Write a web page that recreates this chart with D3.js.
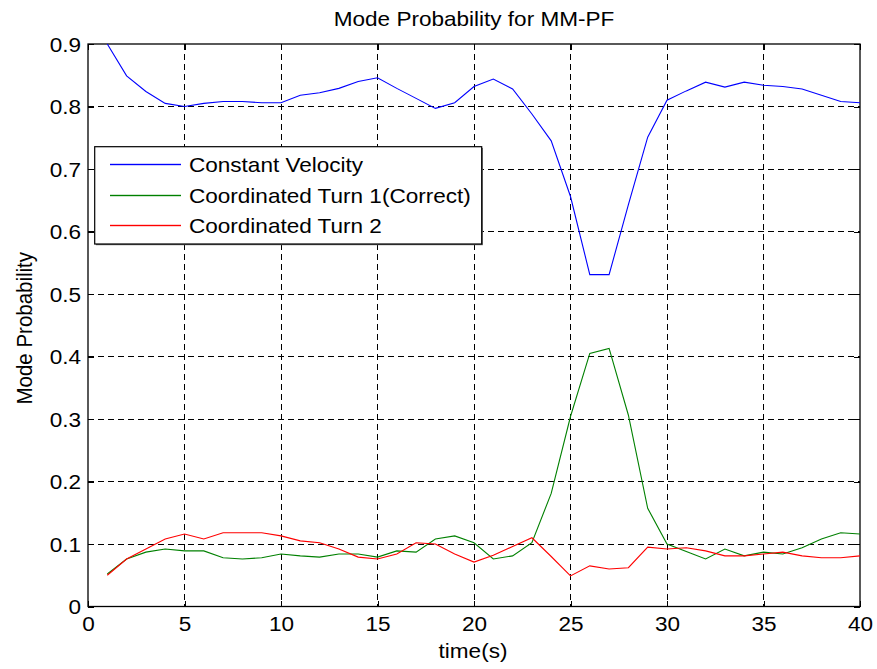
<!DOCTYPE html>
<html>
<head>
<meta charset="utf-8">
<script src="https://cdn.jsdelivr.net/npm/d3@7"></script>
<style>
  html, body { margin: 0; padding: 0; background: #fff; }
  svg text { font-family: "Liberation Sans", Arial, Helvetica, sans-serif; fill: #000; }
</style>
</head>
<body>
<svg id="chart" width="877" height="669"></svg>
<script>
// Time steps (s)
const timeSteps = d3.range(1, 41);

// Mode probabilities per model
const constantVelocity = [
  0.900, 0.849, 0.824, 0.805, 0.800, 0.805, 0.808, 0.808, 0.806, 0.806,
  0.818, 0.822, 0.829, 0.840, 0.846, 0.829, 0.813, 0.797, 0.806, 0.832,
  0.844, 0.828, 0.788, 0.745, 0.656, 0.531, 0.531, 0.643, 0.751, 0.810,
  0.825, 0.839, 0.831, 0.839, 0.834, 0.832, 0.828, 0.818, 0.808, 0.806
];
const coordinatedTurn1 = [
  0.052, 0.076, 0.087, 0.092, 0.089, 0.089, 0.078, 0.076, 0.078, 0.084,
  0.081, 0.079, 0.084, 0.084, 0.079, 0.089, 0.087, 0.108, 0.113, 0.102,
  0.076, 0.081, 0.102, 0.181, 0.304, 0.405, 0.413, 0.306, 0.157, 0.100,
  0.088, 0.076, 0.092, 0.081, 0.087, 0.084, 0.094, 0.108, 0.118, 0.116
];
const coordinatedTurn2 = [
  0.050, 0.076, 0.092, 0.108, 0.116, 0.108, 0.118, 0.118, 0.118, 0.113,
  0.105, 0.102, 0.092, 0.079, 0.076, 0.084, 0.102, 0.100, 0.084, 0.071,
  0.082, 0.096, 0.110, 0.080, 0.049, 0.065, 0.060, 0.062, 0.095, 0.092,
  0.094, 0.089, 0.081, 0.081, 0.084, 0.087, 0.081, 0.078, 0.078, 0.081
];

const seriesNames = ["Constant Velocity", "Coordinated Turn 1(Correct)", "Coordinated Turn 2"];
const seriesColors = ["#0000ff", "#008000", "#ff0000"];
const xTicks = [0, 5, 10, 15, 20, 25, 30, 35, 40];
const yTicks = [0, 0.1, 0.2, 0.3, 0.4, 0.5, 0.6, 0.7, 0.8, 0.9];
const titleText = "Mode Probability for MM-PF";
const xLabel = "time(s)";
const yLabel = "Mode Probability";

const allSeries = [constantVelocity, coordinatedTurn1, coordinatedTurn2];

const svg = d3.select("#chart");
const plot = { left: 88, right: 860, top: 44, bottom: 606.5 };
const fontSize = 20.5;
const stretch = 1.1;

const x = d3.scaleLinear().domain([0, 40]).range([plot.left, plot.right]);
const y = d3.scaleLinear().domain([0, 0.9]).range([plot.bottom, plot.top]);

// Dashed grid
const grid = svg.append("g").attr("stroke", "#000").attr("stroke-width", 1)
  .attr("stroke-dasharray", "6,4").attr("shape-rendering", "crispEdges");
grid.selectAll("line.vx").data(xTicks.slice(1, -1)).join("line")
  .attr("x1", d => x(d)).attr("x2", d => x(d))
  .attr("y1", plot.top).attr("y2", plot.bottom);
grid.selectAll("line.hy").data(yTicks.slice(1, -1)).join("line")
  .attr("x1", plot.left).attr("x2", plot.right)
  .attr("y1", d => y(d)).attr("y2", d => y(d));

// Axes with inward ticks
const xAxis = svg.append("g").attr("transform", `translate(0,${plot.bottom})`)
  .call(d3.axisBottom(x).tickValues(xTicks).tickSizeInner(-6).tickSizeOuter(0).tickPadding(0).tickFormat(d3.format("d")));
const yAxis = svg.append("g").attr("transform", `translate(${plot.left},0)`)
  .call(d3.axisLeft(y).tickValues(yTicks).tickSizeInner(-6).tickSizeOuter(0).tickPadding(0).tickFormat(d => d === 0 ? "0" : d3.format(".1f")(d)));
const xAxisTop = svg.append("g").attr("transform", `translate(0,${plot.top})`)
  .call(d3.axisTop(x).tickValues(xTicks).tickSizeInner(-6).tickSizeOuter(0).tickFormat(""));
const yAxisRight = svg.append("g").attr("transform", `translate(${plot.right},0)`)
  .call(d3.axisRight(y).tickValues(yTicks).tickSizeInner(-6).tickSizeOuter(0).tickFormat(""));

[xAxis, yAxis, xAxisTop, yAxisRight].forEach(g => {
  g.select(".domain").remove();
  g.selectAll(".tick line").attr("stroke", "#000").attr("shape-rendering", "crispEdges");
});

xAxis.selectAll(".tick text")
  .attr("y", null).attr("dy", null)
  .attr("font-size", fontSize)
  .attr("transform", `translate(0,24.5) scale(${stretch},1)`)
  .attr("text-anchor", "middle");
yAxis.selectAll(".tick text")
  .attr("x", null).attr("dy", null)
  .attr("font-size", fontSize)
  .attr("transform", `translate(-7,7.3) scale(${stretch},1)`)
  .attr("text-anchor", "end");

// Plot box
svg.append("rect")
  .attr("x", plot.left).attr("y", plot.top)
  .attr("width", plot.right - plot.left).attr("height", plot.bottom - plot.top)
  .attr("fill", "none").attr("stroke", "#000").attr("stroke-width", 1.3);

// Series lines
const line = d3.line().x((d, i) => x(timeSteps[i])).y(d => y(d));
svg.append("g").selectAll("path").data(allSeries).join("path")
  .attr("d", d => line(d))
  .attr("fill", "none")
  .attr("stroke", (d, i) => seriesColors[i])
  .attr("stroke-width", 1.1);

// Title and axis labels
svg.append("text").text(titleText)
  .attr("font-size", fontSize).attr("text-anchor", "middle")
  .attr("transform", `translate(${(plot.left + plot.right) / 2},26) scale(${stretch},1)`);
svg.append("text").text(xLabel)
  .attr("font-size", fontSize).attr("text-anchor", "middle")
  .attr("transform", `translate(${(plot.left + plot.right) / 2 - 1},657.5) scale(${stretch},1)`);
svg.append("text").text(yLabel)
  .attr("font-size", fontSize).attr("text-anchor", "middle")
  .attr("transform", `translate(31.5,${(plot.top + plot.bottom) / 2 + 3}) rotate(-90) scale(1,${stretch})`);

// Legend
const legend = svg.append("g");
const lg = { x: 94.7, y: 146.7, w: 387, h: 97.3 };
legend.append("rect")
  .attr("x", lg.x + 1.2).attr("y", lg.y + 1.2).attr("width", lg.w).attr("height", lg.h)
  .attr("fill", "#666");
legend.append("rect")
  .attr("x", lg.x).attr("y", lg.y).attr("width", lg.w).attr("height", lg.h)
  .attr("fill", "#fff").attr("stroke", "#000").attr("stroke-width", 1.2);
const rowY = [164.5, 195.5, 225.5];
seriesNames.forEach((name, i) => {
  legend.append("rect")
    .attr("x", 110).attr("y", rowY[i] - 0.7)
    .attr("width", 71).attr("height", 1.4)
    .attr("fill", seriesColors[i]);
  legend.append("text").text(name)
    .attr("font-size", fontSize)
    .attr("transform", `translate(189,${rowY[i] + 7.3}) scale(${stretch},1)`);
});
</script>
</body>
</html>
